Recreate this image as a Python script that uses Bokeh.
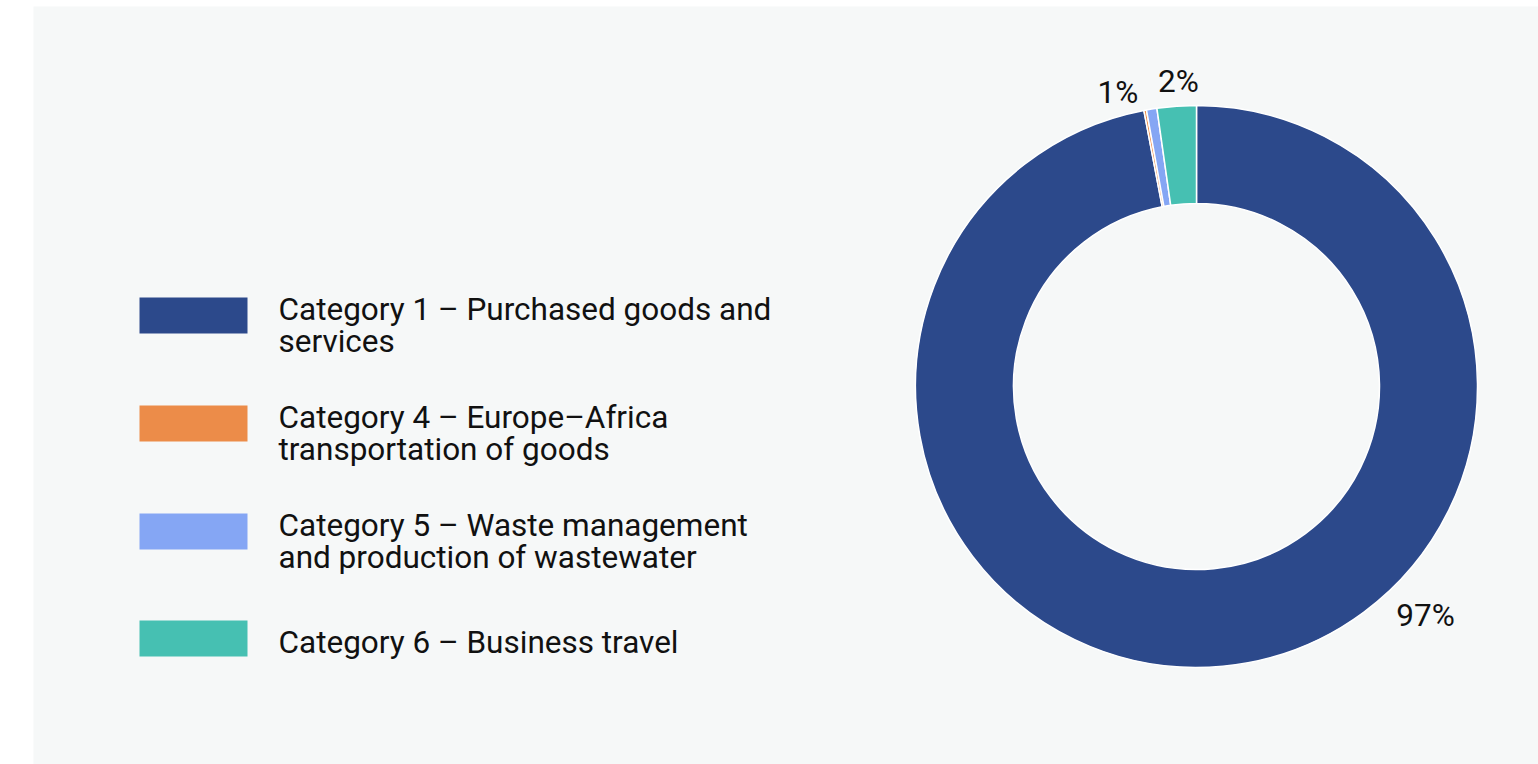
import math
from bokeh.plotting import figure
from bokeh.models import ColumnDataSource
from bokeh.core.properties import value
from bokeh.embed import file_html
from bokeh.resources import INLINE

# ---- data ----
categories = [
    "Category 1 \u2013 Purchased goods and\nservices",
    "Category 4 \u2013 Europe\u2013Africa\ntransportation of goods",
    "Category 5 \u2013 Waste management\nand production of wastewater",
    "Category 6 \u2013 Business travel",
]
shares = [97.0, 0.15, 0.6, 2.25]
pct_labels = ["97%", "", "1%", "2%"]
colors = ["#2c498b", "#ec8c49", "#85a6f4", "#46c0b2"]
label_angle_deg = [135, -10.4, -15, -3.4]
label_radius = [324, 305, 304, 306]

W, H = 1538, 764
LEFT, TOP = 33, 6
FW, FH = W - LEFT, H - TOP
BG = "#f6f8f8"
FONT = "31.5px"

p = figure(width=W, height=H, output_backend="svg", toolbar_location=None,
           x_range=(0, FW), y_range=(0, FH), min_border_left=LEFT,
           min_border_right=0, min_border_top=TOP, min_border_bottom=0)
p.background_fill_color = BG
p.border_fill_color = "white"
p.outline_line_color = None
p.axis.visible = False
p.grid.visible = False

cx, cy = 1163, 378
r_in, r_out = 183, 281

total = sum(shares)
starts, ends = [], []
cum = 0.0
for s in shares:
    a0 = cum / total * 2 * math.pi
    cum += s
    a1 = cum / total * 2 * math.pi
    starts.append(math.pi / 2 - a0)
    ends.append(math.pi / 2 - a1)

src = ColumnDataSource(dict(x=[cx] * 4, y=[cy] * 4, start=starts, end=ends, color=colors))
p.annular_wedge(x="x", y="y", inner_radius=r_in, outer_radius=r_out,
                start_angle="start", end_angle="end", direction="clock",
                fill_color="color", line_color="white", line_width=1.5, source=src)

lx, ly, lt = [], [], []
for lab, ang, rr in zip(pct_labels, label_angle_deg, label_radius):
    if not lab:
        continue
    t = math.radians(ang)
    lx.append(cx + rr * math.sin(t))
    ly.append(cy + rr * math.cos(t))
    lt.append(lab)
p.text(x=lx, y=ly, text=lt, text_align="center", text_baseline="middle",
       text_font=value("Roboto"), text_font_size=FONT, text_color="#111111")

# ---- legend ----
row_y = [449, 341, 233, 126]
sw_x = 160
p.rect(x=[sw_x] * 4, y=row_y, width=108, height=36, fill_color=colors, line_color=None)
tx, ty, tt = [], [], []
for lab, yc in zip(categories, row_y):
    lines = lab.split("\n")
    n = len(lines)
    base = yc - 4 + 10 * (n - 1)
    for i, ln in enumerate(lines):
        tx.append(245)
        ty.append(base - 32 * i)
        tt.append(ln)
p.text(x=tx, y=ty, text=tt, text_align="left", text_baseline="alphabetic",
       text_font=value("Roboto"), text_font_size=FONT, text_color="#111111")

open("out.html", "w").write(file_html(p, INLINE))
